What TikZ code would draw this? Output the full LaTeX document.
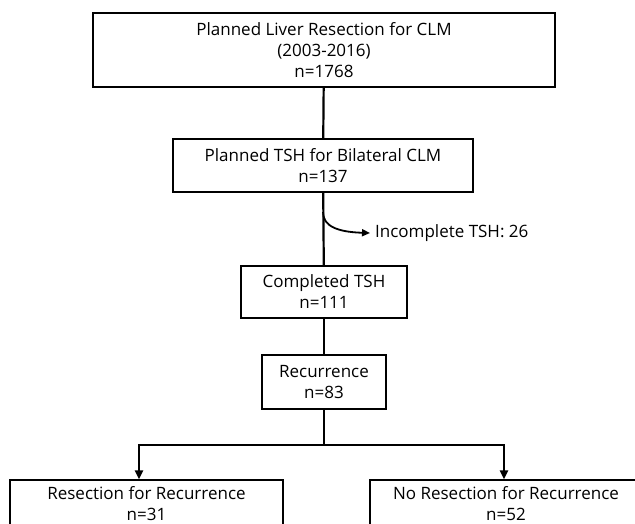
\documentclass[tikz,border=0pt]{standalone}
\usepackage{fontspec}
\setmainfont{Open Sans}
\usetikzlibrary{arrows.meta}

\tikzset{
	flowbox/.style={draw, line width=1.1pt, fill=white, align=center, font=\fontsize{17}{21}\selectfont, inner sep=0pt},
	flowline/.style={line width=2.2pt},
	flowarrow/.style={line width=2.2pt, -{Triangle[length=9pt, width=8pt]}}
}

\begin{document}
\begin{tikzpicture}[x=1pt, y=-1pt]
			\useasboundingbox (0,0) rectangle (635,524);
			\clip (0,0) rectangle (635,524);
			\fill[white] (0,0) rectangle (635,524);
			% boxes
			\node[flowbox, minimum width=462pt, minimum height=74pt] (planned) at (324,50)
			{Planned Liver Resection for CLM\\(2003-2016)\\n=1768};
			\node[flowbox, minimum width=300pt, minimum height=53pt] (tsh) at (323,165.5)
			{Planned TSH for Bilateral CLM\\n=137};
			\node[flowbox, minimum width=166pt, minimum height=52pt] (completed) at (324,292)
			{Completed TSH\\n=111};
			\node[flowbox, minimum width=124pt, minimum height=54pt] (recur) at (324,382)
			{Recurrence\\n=83};
			\node[flowbox, minimum width=273pt, minimum height=48pt] (resect) at (146.5,504)
			{Resection for Recurrence\\n=31};
			\node[flowbox, minimum width=272pt, minimum height=48pt] (noresect) at (506,504)
			{No Resection for Recurrence\\n=52};
			\node[anchor=west, font=\fontsize{17}{21}\selectfont, inner sep=0pt] (incomplete) at (375,233) {Incomplete TSH: 26};
			% connectors
			\draw[flowline] (planned) -- (tsh);
			\draw[flowline] (tsh) -- (completed);
			\draw[flowline] (completed) -- (recur);
			\coordinate (split) at (323,212);
			\draw[line width=1.8pt, -{Triangle[length=8pt, width=7pt]}] (split) .. controls (323,226) and (337,232) .. ([xshift=-5pt]incomplete.west);
			\coordinate (branch) at (324,445);
			\draw[flowline] (recur) -- (branch);
			\draw[flowarrow] (branch) -| ([xshift=-7.5pt]resect.north);
			\draw[flowarrow] (branch) -| ([xshift=-2pt]noresect.north);
		\end{tikzpicture}
\end{document}
